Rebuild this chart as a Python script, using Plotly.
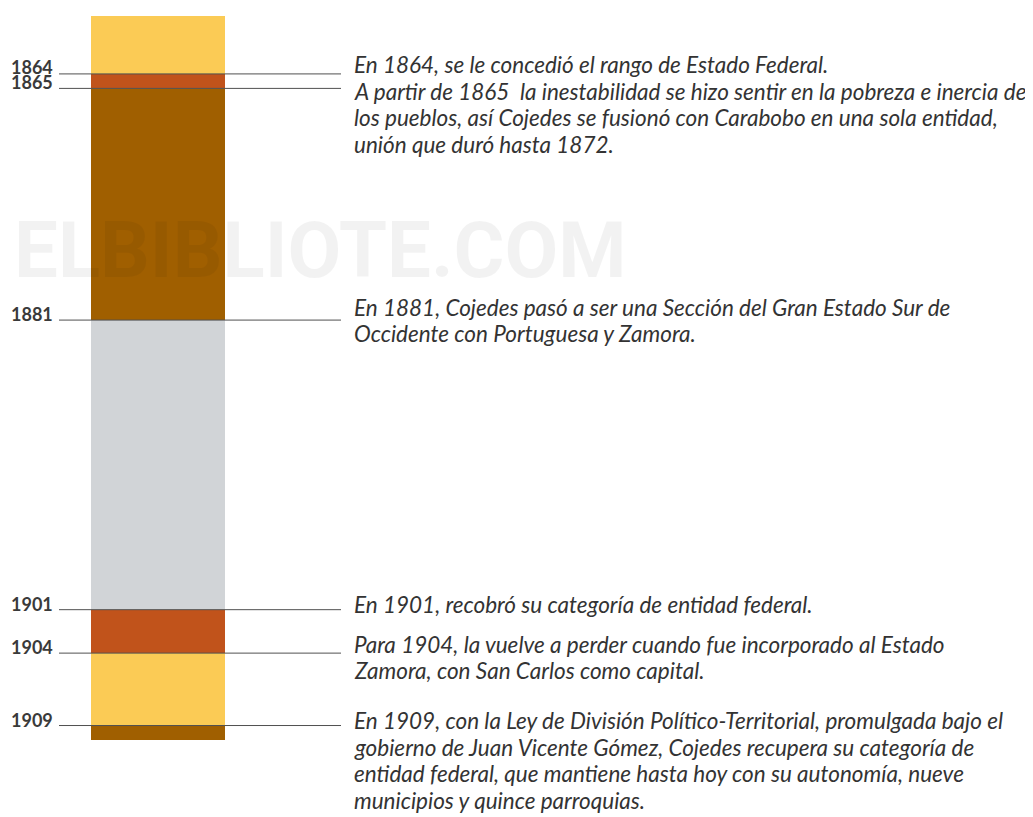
import plotly.graph_objects as go

# ---- data ----
seg_start = [1860, 1864, 1865, 1881, 1901, 1904, 1909]
seg_end = [1864, 1865, 1881, 1901, 1904, 1909, 1910]
seg_color = ["#FBCB55", "#C1531B", "#A05F00", "#D1D4D7", "#C1531B", "#FBCB55", "#A05F00"]

event_years = [1864, 1865, 1881, 1901, 1904, 1909]
event_text = [
    ["En 1864, se le concedió el rango de Estado Federal."],
    ["A partir de 1865  la inestabilidad se hizo sentir en la pobreza e inercia de",
     "los pueblos, así Cojedes se fusionó con Carabobo en una sola entidad,",
     "unión que duró hasta 1872."],
    ["En 1881, Cojedes pasó a ser una Sección del Gran Estado Sur de",
     "Occidente con Portuguesa y Zamora."],
    ["En 1901, recobró su categoría de entidad federal."],
    ["Para 1904, la vuelve a perder cuando fue incorporado al Estado",
     "Zamora, con San Carlos como capital."],
    ["En 1909, con la Ley de División Político-Territorial, promulgada bajo el",
     "gobierno de Juan Vicente Gómez, Cojedes recupera su categoría de",
     "entidad federal, que mantiene hasta hoy con su autonomía, nueve",
     "municipios y quince parroquias."],
]
watermark = "ELBIBLIOTE.COM"

# ---- layout constants (pixels; page has an 8px body margin) ----
W, H = 1033, 817
PAGE_OFF = 8
TOP = 16 - PAGE_OFF
BOTTOM = H - (740 - PAGE_OFF)
bar_center, bar_width = 158, 134
line_x0, line_x1 = 59, 341
label_x = 55
text_x = 352
line_gap = 26.5
first_line_offset = {1864: 9, 1865: -3, 1881: 13, 1901: 5, 1904: 9, 1909: 5}

fig = go.Figure()

fig.add_trace(go.Bar(
    x=[bar_center] * len(seg_start),
    y=[e - s for s, e in zip(seg_start, seg_end)],
    base=seg_start,
    width=bar_width,
    marker=dict(color=seg_color, line=dict(width=0)),
    hoverinfo="skip",
    showlegend=False,
))

for yr in event_years:
    fig.add_trace(go.Scatter(
        x=[line_x0, line_x1], y=[yr, yr], mode="lines",
        line=dict(color="#505050", width=1),
        hoverinfo="skip", showlegend=False,
    ))

annotations = []
for yr in event_years:
    annotations.append(dict(
        x=label_x, y=yr, xref="x", yref="y", text="<b>%d</b>" % yr,
        showarrow=False, xanchor="right", yanchor="middle",
        yshift=7 if yr == 1864 else 6,
        font=dict(family="Lato", size=18, color="#3a3a3a"),
    ))

for yr, lines in zip(event_years, event_text):
    for i, ln in enumerate(lines):
        annotations.append(dict(
            x=text_x, y=yr, xref="x", yref="y", text="<i>%s</i>" % ln,
            showarrow=False, xanchor="left", yanchor="middle",
            yshift=first_line_offset[yr] - i * line_gap,
            font=dict(family="Lato", size=22.5, color="#333333"),
        ))

plot_h = H - TOP - BOTTOM
annotations.append(dict(
    x=320, y=1 - (251 - 16) / plot_h, xref="x", yref="paper",
    text="<b>%s</b>" % watermark, showarrow=False,
    xanchor="center", yanchor="middle",
    font=dict(family="Roboto", size=78, color="rgba(0,0,0,0.05)"),
))

fig.update_layout(
    width=W, height=H,
    margin=dict(l=0, r=0, t=TOP, b=BOTTOM),
    paper_bgcolor="white", plot_bgcolor="white",
    barmode="overlay",
    xaxis=dict(range=[PAGE_OFF, W + PAGE_OFF], visible=False, fixedrange=True),
    yaxis=dict(range=[1910, 1860], visible=False, fixedrange=True),
    annotations=annotations,
)

fig.write_html("out.html")
